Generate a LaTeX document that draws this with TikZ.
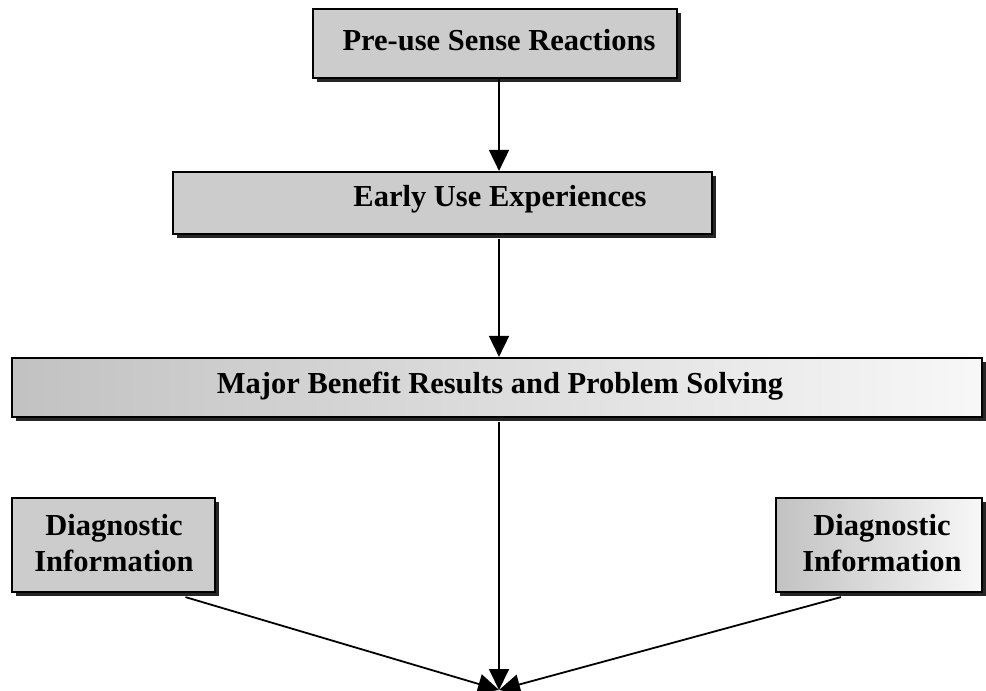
\documentclass[tikz,border=0pt]{standalone}
\usepackage{fontspec}
\setmainfont{Liberation Serif}
\usetikzlibrary{arrows.meta,shadows,calc}
\begin{document}
\begin{tikzpicture}[x=1pt,y=-1pt,
  stage/.style={draw=black, line width=2.2pt, fill=black!20, inner sep=0pt,
    drop shadow={shadow xshift=4pt, shadow yshift=-4pt, fill=black, opacity=0.85}},
  fadebox/.style={stage, left color=black!24, right color=black!3},
  caption/.style={font=\bfseries\fontsize{30.5}{36}\selectfont, align=center, inner sep=0pt},
  flow/.style={line width=1.8pt, -{Triangle[width=20pt,length=21pt]}}]
\useasboundingbox (0,0) rectangle (986,691);

% stage boxes
\node[stage, minimum width=364pt, minimum height=69pt] (pre) at (495,43.5) {};
\node[caption] (preT) at (499,40) {Pre-use Sense Reactions};

\node[stage, minimum width=539pt, minimum height=62pt] (early) at (442.5,203) {};
\node[caption] (earlyT) at (500,199) {Early Use Experiences};

\node[fadebox, minimum width=970pt, minimum height=59pt] (major) at (497,387.5) {};
\node[caption] (majorT) at (500,386) {Major Benefit Results and Problem Solving};

\node[stage, minimum width=203pt, minimum height=94pt] (diagL) at (113.5,545) {};
\node[caption] (diagLT) at (114,543) {Diagnostic\\Information};

\node[fadebox, minimum width=206pt, minimum height=94pt] (diagR) at (879,545) {};
\node[caption] (diagRT) at (882,543) {Diagnostic\\Information};

% connectors
\coordinate (sink) at (499,690);
\draw[flow] (pre.south -| sink) -- (early.north -| sink);
\draw[flow] (early.south -| sink) ++(0,4) -- (major.north -| sink);
\draw[flow] ($(major.south -| sink)+(0,4)$) -- (sink);
\draw[flow] ($(diagL.south)+(72,4)$) -- (sink);
\draw[flow] ($(diagR.south)+(-38,4)$) -- (sink);
\end{tikzpicture}
\end{document}
